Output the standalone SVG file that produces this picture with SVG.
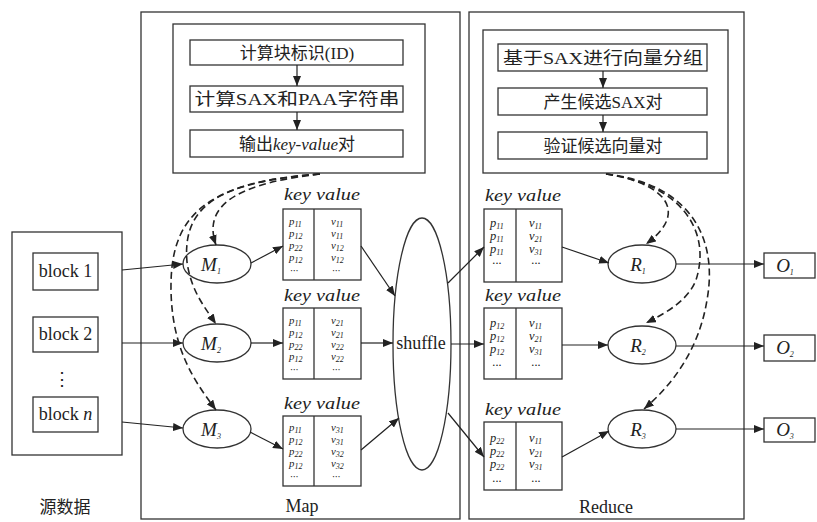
<svg xmlns="http://www.w3.org/2000/svg" width="817" height="522" viewBox="0 0 817 522">
<defs>
<marker id="ah" markerUnits="userSpaceOnUse" markerWidth="10" markerHeight="8" refX="10" refY="4" orient="auto">
<path d="M0,0 L10,4 L0,8 z" fill="#222"/>
</marker>
<style>
.box{fill:none;stroke:#333;stroke-width:1.3}
.ln{fill:none;stroke:#222;stroke-width:1.2}
.dl{fill:none;stroke:#222;stroke-width:1.6;stroke-dasharray:7 4}
.t{font-family:"Liberation Serif","Noto Sans CJK SC",serif;font-size:18px;fill:#222}
.cj{font-family:"Liberation Serif","Noto Sans CJK SC",serif;font-size:17px;fill:#222}
.i{font-family:"Liberation Serif",serif;font-style:italic;fill:#222}
.kv{font-family:"Liberation Serif",serif;font-style:italic;font-size:17px;fill:#222}
.c{font-family:"Liberation Serif",serif;font-style:italic;font-size:12.5px;fill:#222}
.m{font-size:10.8px}
.s{font-size:8px}
</style>
</defs>
<rect width="817" height="522" fill="#fff"/>

<g id="source">
<rect class="box" x="12" y="232" width="110" height="223"/>
<text class="cj" x="65" y="513" text-anchor="middle">源数据</text>
</g>
<g id="map-panel">
<rect class="box" x="141" y="12" width="319" height="507"/>
<text class="t" x="302" y="512" text-anchor="middle">Map</text>
</g>
<g id="reduce-panel">
<rect class="box" x="469" y="12" width="275" height="507"/>
<text class="t" x="606" y="513" text-anchor="middle">Reduce</text>
</g>

<g id="map-steps">
<rect class="box" x="173" y="24" width="252" height="149"/>
<rect class="box" x="190" y="40" width="213" height="25"/>
<text class="cj" x="297" y="59" text-anchor="middle">计算块标识(ID)</text>
<rect class="box" x="190" y="86" width="213" height="26"/>
<text class="cj" x="297" y="105" text-anchor="middle" textLength="205" lengthAdjust="spacingAndGlyphs">计算SAX和PAA字符串</text>
<rect class="box" x="190" y="130" width="213" height="27"/>
<text class="cj" x="297" y="150" text-anchor="middle">输出<tspan font-style="italic">key-value</tspan>对</text>
</g>

<g id="reduce-steps">
<rect class="box" x="483" y="30" width="245" height="143"/>
<rect class="box" x="498" y="44" width="209" height="27"/>
<text class="cj" x="603" y="64" text-anchor="middle" textLength="200" lengthAdjust="spacingAndGlyphs">基于SAX进行向量分组</text>
<rect class="box" x="498" y="88" width="209" height="27"/>
<text class="cj" x="603" y="108" text-anchor="middle">产生候选SAX对</text>
<rect class="box" x="498" y="132" width="209" height="27"/>
<text class="cj" x="603" y="152" text-anchor="middle">验证候选向量对</text>
</g>

<g id="block1"><rect class="box" x="33" y="253" width="65" height="37"/><text class="t" x="65.5" y="277" text-anchor="middle">block 1</text></g>
<g id="block2"><rect class="box" x="33" y="317" width="65" height="35"/><text class="t" x="65.5" y="340" text-anchor="middle">block 2</text></g>
<g id="dots"><text class="t" x="62" y="385" text-anchor="middle" font-size="14">⋮</text></g>
<g id="blockn"><rect class="box" x="33" y="397" width="65" height="35"/><text class="t" x="65.5" y="420" text-anchor="middle">block <tspan font-style="italic">n</tspan></text></g>

<g id="M1"><ellipse class="box" cx="217" cy="264" rx="34" ry="19"/><text class="i" font-size="19" x="211" y="271" text-anchor="middle">M<tspan class="s" dy="3">1</tspan></text></g>
<g id="M2"><ellipse class="box" cx="217" cy="343" rx="34" ry="19"/><text class="i" font-size="19" x="211" y="350" text-anchor="middle">M<tspan class="s" dy="3">2</tspan></text></g>
<g id="M3"><ellipse class="box" cx="217" cy="429" rx="34" ry="19"/><text class="i" font-size="19" x="211" y="436" text-anchor="middle">M<tspan class="s" dy="3">3</tspan></text></g>

<g id="mt1">
<text class="kv" x="322" y="200" text-anchor="middle" textLength="76" lengthAdjust="spacingAndGlyphs">key value</text>
<rect class="box" x="283" y="209" width="78" height="71"/><line class="box" x1="314" y1="209" x2="314" y2="280"/>
<text class="c m" x="289" y="225">p<tspan class="s" dy="1.5">11</tspan><tspan x="289" dy="10.5">p</tspan><tspan class="s" dy="1.5">12</tspan><tspan x="289" dy="10.5">p</tspan><tspan class="s" dy="1.5">22</tspan><tspan x="289" dy="10.5">p</tspan><tspan class="s" dy="1.5">12</tspan><tspan x="290" dy="11.5">···</tspan></text>
<text class="c m" x="331" y="225">v<tspan class="s" dy="1.5">11</tspan><tspan x="331" dy="10.5">v</tspan><tspan class="s" dy="1.5">11</tspan><tspan x="331" dy="10.5">v</tspan><tspan class="s" dy="1.5">12</tspan><tspan x="331" dy="10.5">v</tspan><tspan class="s" dy="1.5">12</tspan><tspan x="332" dy="11.5">···</tspan></text>
</g>
<g id="mt2">
<text class="kv" x="322" y="301" text-anchor="middle" textLength="76" lengthAdjust="spacingAndGlyphs">key value</text>
<rect class="box" x="283" y="308" width="78" height="71"/><line class="box" x1="314" y1="308" x2="314" y2="379"/>
<text class="c m" x="289" y="324">p<tspan class="s" dy="1.5">11</tspan><tspan x="289" dy="10.5">p</tspan><tspan class="s" dy="1.5">12</tspan><tspan x="289" dy="10.5">p</tspan><tspan class="s" dy="1.5">22</tspan><tspan x="289" dy="10.5">p</tspan><tspan class="s" dy="1.5">12</tspan><tspan x="290" dy="11.5">···</tspan></text>
<text class="c m" x="331" y="324">v<tspan class="s" dy="1.5">21</tspan><tspan x="331" dy="10.5">v</tspan><tspan class="s" dy="1.5">21</tspan><tspan x="331" dy="10.5">v</tspan><tspan class="s" dy="1.5">22</tspan><tspan x="331" dy="10.5">v</tspan><tspan class="s" dy="1.5">22</tspan><tspan x="332" dy="11.5">···</tspan></text>
</g>
<g id="mt3">
<text class="kv" x="322" y="409" text-anchor="middle" textLength="76" lengthAdjust="spacingAndGlyphs">key value</text>
<rect class="box" x="283" y="416" width="78" height="70"/><line class="box" x1="314" y1="416" x2="314" y2="486"/>
<text class="c m" x="289" y="431">p<tspan class="s" dy="1.5">11</tspan><tspan x="289" dy="10.5">p</tspan><tspan class="s" dy="1.5">12</tspan><tspan x="289" dy="10.5">p</tspan><tspan class="s" dy="1.5">22</tspan><tspan x="289" dy="10.5">p</tspan><tspan class="s" dy="1.5">12</tspan><tspan x="290" dy="11.5">···</tspan></text>
<text class="c m" x="331" y="431">v<tspan class="s" dy="1.5">31</tspan><tspan x="331" dy="10.5">v</tspan><tspan class="s" dy="1.5">31</tspan><tspan x="331" dy="10.5">v</tspan><tspan class="s" dy="1.5">32</tspan><tspan x="331" dy="10.5">v</tspan><tspan class="s" dy="1.5">32</tspan><tspan x="332" dy="11.5">···</tspan></text>
</g>

<g id="shuffle">
<ellipse class="box" cx="422" cy="344" rx="29" ry="126"/>
<text class="t" x="421" y="349" text-anchor="middle" font-size="17">shuffle</text>
</g>

<g id="rt1">
<text class="kv" x="523" y="201" text-anchor="middle" textLength="76" lengthAdjust="spacingAndGlyphs">key value</text>
<rect class="box" x="484" y="209" width="78" height="73"/><line class="box" x1="516" y1="209" x2="516" y2="282"/>
<text class="c" x="490" y="227">p<tspan class="s" dy="1.5">11</tspan><tspan x="490" dy="11.5">p</tspan><tspan class="s" dy="1.5">11</tspan><tspan x="490" dy="11.5">p</tspan><tspan class="s" dy="1.5">11</tspan><tspan x="492" dy="12.5">···</tspan></text>
<text class="c" x="529" y="227">v<tspan class="s" dy="1.5">11</tspan><tspan x="529" dy="11.5">v</tspan><tspan class="s" dy="1.5">21</tspan><tspan x="529" dy="11.5">v</tspan><tspan class="s" dy="1.5">31</tspan><tspan x="531" dy="12.5">···</tspan></text>
</g>
<g id="rt2">
<text class="kv" x="523" y="301" text-anchor="middle" textLength="76" lengthAdjust="spacingAndGlyphs">key value</text>
<rect class="box" x="484" y="308" width="78" height="71"/><line class="box" x1="516" y1="308" x2="516" y2="379"/>
<text class="c" x="490" y="327">p<tspan class="s" dy="1.5">12</tspan><tspan x="490" dy="11.5">p</tspan><tspan class="s" dy="1.5">12</tspan><tspan x="490" dy="11.5">p</tspan><tspan class="s" dy="1.5">12</tspan><tspan x="492" dy="14.5">···</tspan></text>
<text class="c" x="529" y="327">v<tspan class="s" dy="1.5">11</tspan><tspan x="529" dy="11.5">v</tspan><tspan class="s" dy="1.5">21</tspan><tspan x="529" dy="11.5">v</tspan><tspan class="s" dy="1.5">31</tspan><tspan x="531" dy="14.5">···</tspan></text>
</g>
<g id="rt3">
<text class="kv" x="523" y="415" text-anchor="middle" textLength="76" lengthAdjust="spacingAndGlyphs">key value</text>
<rect class="box" x="484" y="422" width="78" height="68"/><line class="box" x1="516" y1="422" x2="516" y2="490"/>
<text class="c" x="490" y="442">p<tspan class="s" dy="1.5">22</tspan><tspan x="490" dy="11.5">p</tspan><tspan class="s" dy="1.5">22</tspan><tspan x="490" dy="11.5">p</tspan><tspan class="s" dy="1.5">22</tspan><tspan x="492" dy="15.5">···</tspan></text>
<text class="c" x="529" y="442">v<tspan class="s" dy="1.5">11</tspan><tspan x="529" dy="11.5">v</tspan><tspan class="s" dy="1.5">21</tspan><tspan x="529" dy="11.5">v</tspan><tspan class="s" dy="1.5">31</tspan><tspan x="531" dy="15.5">···</tspan></text>
</g>

<g id="R1"><ellipse class="box" cx="642" cy="264" rx="34" ry="19"/><text class="i" font-size="19" x="638" y="271" text-anchor="middle">R<tspan class="s" dy="3">1</tspan></text></g>
<g id="R2"><ellipse class="box" cx="642" cy="345" rx="34" ry="19"/><text class="i" font-size="19" x="638" y="352" text-anchor="middle">R<tspan class="s" dy="3">2</tspan></text></g>
<g id="R3"><ellipse class="box" cx="642" cy="429" rx="34" ry="19"/><text class="i" font-size="19" x="638" y="436" text-anchor="middle">R<tspan class="s" dy="3">3</tspan></text></g>

<g id="O1"><rect class="box" x="764" y="253" width="51" height="25"/><text class="i" font-size="19" x="785" y="272" text-anchor="middle">O<tspan class="s" dy="3">1</tspan></text></g>
<g id="O2"><rect class="box" x="764" y="335" width="51" height="26"/><text class="i" font-size="19" x="785" y="354" text-anchor="middle">O<tspan class="s" dy="3">2</tspan></text></g>
<g id="O3"><rect class="box" x="764" y="418" width="51" height="24"/><text class="i" font-size="19" x="785" y="436" text-anchor="middle">O<tspan class="s" dy="3">3</tspan></text></g>

<g id="connectors">
<line class="ln" x1="297" y1="65" x2="297" y2="86" marker-end="url(#ah)"/>
<line class="ln" x1="297" y1="112" x2="297" y2="130" marker-end="url(#ah)"/>
<line class="ln" x1="603" y1="71" x2="603" y2="88" marker-end="url(#ah)"/>
<line class="ln" x1="603" y1="115" x2="603" y2="132" marker-end="url(#ah)"/>

<line class="ln" x1="122" y1="270" x2="183" y2="264" marker-end="url(#ah)"/>
<line class="ln" x1="122" y1="343" x2="183" y2="343" marker-end="url(#ah)"/>
<line class="ln" x1="122" y1="422" x2="183" y2="428" marker-end="url(#ah)"/>

<line class="ln" x1="251" y1="263" x2="283" y2="246" marker-end="url(#ah)"/>
<line class="ln" x1="251" y1="343" x2="283" y2="343" marker-end="url(#ah)"/>
<line class="ln" x1="250" y1="432" x2="283" y2="449" marker-end="url(#ah)"/>

<line class="ln" x1="361" y1="246" x2="395" y2="296" marker-end="url(#ah)"/>
<line class="ln" x1="361" y1="343" x2="393" y2="343" marker-end="url(#ah)"/>
<line class="ln" x1="361" y1="450" x2="399" y2="418" marker-end="url(#ah)"/>

<line class="ln" x1="448" y1="283" x2="484" y2="247" marker-end="url(#ah)"/>
<line class="ln" x1="451" y1="344" x2="484" y2="344" marker-end="url(#ah)"/>
<line class="ln" x1="448" y1="413" x2="484" y2="457" marker-end="url(#ah)"/>

<line class="ln" x1="562" y1="247" x2="609" y2="263" marker-end="url(#ah)"/>
<line class="ln" x1="562" y1="345" x2="608" y2="345" marker-end="url(#ah)"/>
<line class="ln" x1="562" y1="457" x2="609" y2="431" marker-end="url(#ah)"/>

<line class="ln" x1="676" y1="264" x2="764" y2="264" marker-end="url(#ah)"/>
<line class="ln" x1="676" y1="346" x2="764" y2="346" marker-end="url(#ah)"/>
<line class="ln" x1="676" y1="429" x2="764" y2="429" marker-end="url(#ah)"/>

<path class="dl" d="M 320,174 C 250,182 200,200 216,245" marker-end="url(#ah)"/>
<path class="dl" d="M 320,174 C 220,182 182,205 187,262 C 191,290 203,305 216,324" marker-end="url(#ah)"/>
<path class="dl" d="M 320,174 C 200,182 170,220 171,290 C 172,350 195,382 216,410" marker-end="url(#ah)"/>

<path class="dl" d="M 606,174 C 665,183 690,212 646,244" marker-end="url(#ah)"/>
<path class="dl" d="M 606,174 C 680,184 712,230 696,280 C 688,300 668,312 646,323" marker-end="url(#ah)"/>
<path class="dl" d="M 606,174 C 692,184 718,240 707,300 C 699,350 672,385 644,409" marker-end="url(#ah)"/>
</g>
</svg>
